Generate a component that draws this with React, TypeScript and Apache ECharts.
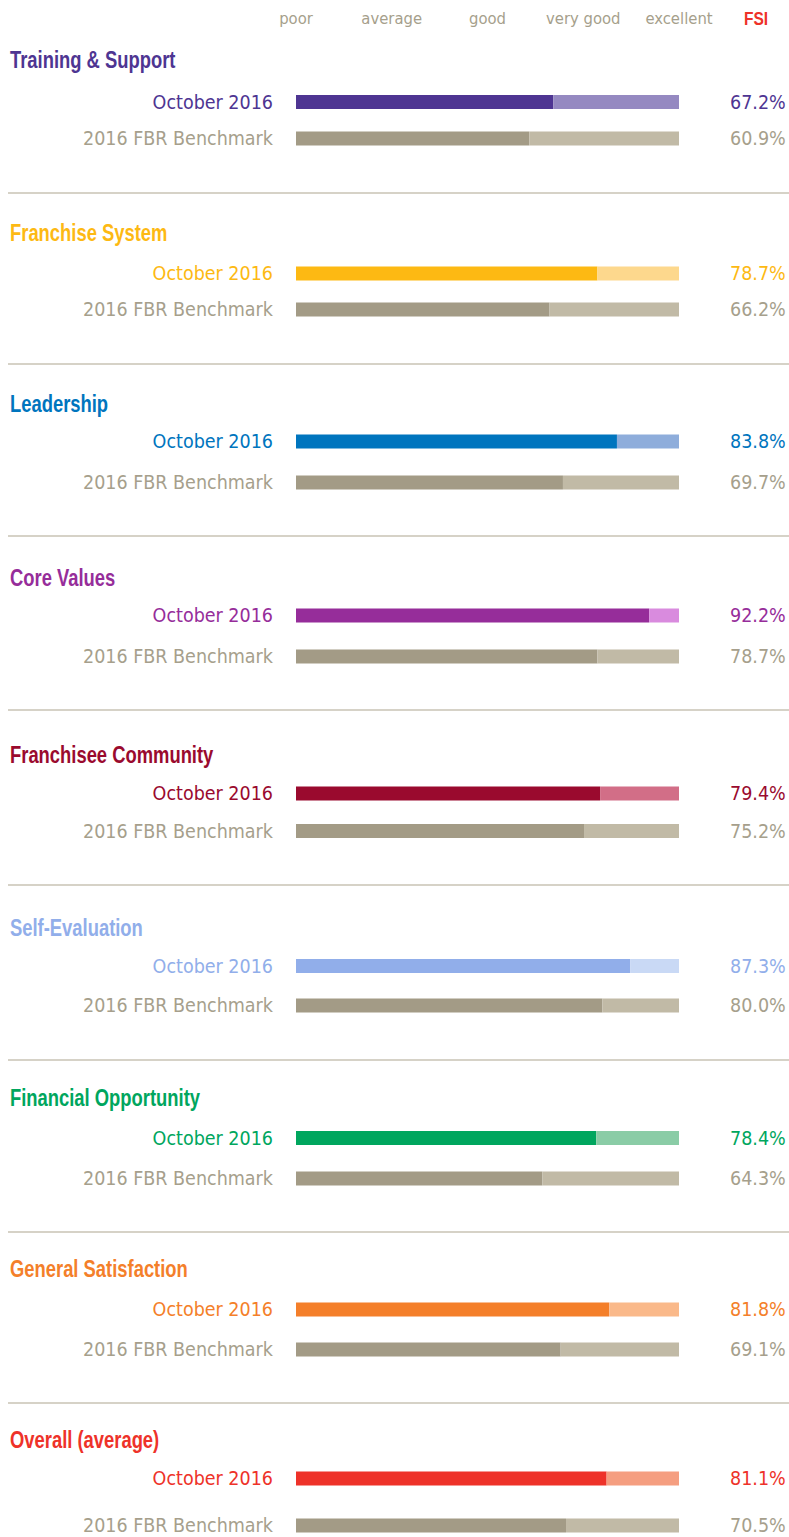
import React, { useEffect, useRef } from "react";
import * as echarts from "echarts";

// ---- data ----
const categories = [
  "Training & Support",
  "Franchise System",
  "Leadership",
  "Core Values",
  "Franchisee Community",
  "Self-Evaluation",
  "Financial Opportunity",
  "General Satisfaction",
  "Overall (average)",
];
const rowLabels = ["October 2016", "2016 FBR Benchmark"];
const october2016 = [67.2, 78.7, 83.8, 92.2, 79.4, 87.3, 78.4, 81.8, 81.1];
const benchmark2016 = [60.9, 66.2, 69.7, 78.7, 75.2, 80.0, 64.3, 69.1, 70.5];
const scaleLabels = ["poor", "average", "good", "very good", "excellent"];
const scaleTicks = [0, 25, 50, 75, 100];
const fsiLabel = "FSI";

// ---- styles ----
const darkColors = ["#4E3592", "#FDB913", "#0075BE", "#962D9A", "#9A0A2E", "#91AEEA", "#00A65E", "#F47F2A", "#EE3229"];
const lightColors = ["#9589C1", "#FDD88D", "#8EADDB", "#D98BDE", "#D26E87", "#C9D9F5", "#8ACCA6", "#FAB98A", "#F59E80"];
const benchDark = "#A39B86";
const benchLight = "#C1BAA6";
const grayText = "#A69F8C";
const sepColor = "#C9C3B5";
const FONT = "'DejaVu Sans Condensed', 'Liberation Sans Narrow', sans-serif";
const TITLE_FONT = "'Liberation Sans', Arial, sans-serif";

// ---- layout (pixel positions of each block) ----
const titleY = [60, 233, 404, 578, 755, 928, 1098, 1269, 1440];
const octY = [102, 273.5, 441.5, 615.5, 793.5, 966, 1138, 1309.5, 1478.5];
const benchY = [138.5, 309.5, 482.5, 656.5, 831, 1005.5, 1178.5, 1349.5, 1525.5];
const sepY = [193, 364, 536, 710, 885, 1060, 1232, 1403];
const W = 789;
const H = 1537;
const barLeft = 296;
const barRight = 679;
const valueLabelMargin = 51;

export default function App() {
  const ref = useRef<HTMLDivElement>(null);
  useEffect(() => {
    if (!ref.current) return;
    const chart = echarts.init(ref.current, null, { renderer: "svg" });

    const grids: any[] = [];
    const xAxes: any[] = [];
    const yAxes: any[] = [];
    const series: any[] = [];
    const graphics: any[] = [];

    categories.forEach((cat, i) => {
      const gap = benchY[i] - octY[i];
      const top = octY[i] - gap / 2;
      grids.push({
        left: barLeft,
        right: W - barRight,
        top,
        height: gap * 2,
        containLabel: false,
        outerBoundsMode: "none",
      });
      const isFirst = i === 0;
      xAxes.push({
        gridIndex: i,
        type: "value",
        min: 0,
        max: 100,
        interval: 25,
        position: "top",
        show: isFirst,
        axisLine: { show: false },
        axisTick: { show: false },
        splitLine: { show: false },
        axisLabel: {
          show: isFirst,
          margin: top - 27,
          color: grayText,
          fontFamily: FONT,
          fontSize: 16.5,
          showMinLabel: true,
          showMaxLabel: true,
          hideOverlap: false,
          formatter: (v: number) => scaleLabels[scaleTicks.indexOf(v)] ?? "",
        },
      });
      const labelColors = [darkColors[i], grayText];
      yAxes.push({
        gridIndex: i,
        type: "category",
        inverse: true,
        position: "left",
        data: rowLabels.map((t, k) => ({ value: t, textStyle: { color: labelColors[k] } })),
        axisLine: { show: false },
        axisTick: { show: false },
        splitLine: { show: false },
        axisLabel: { margin: 23, fontFamily: FONT, fontSize: 19.5 },
      });
      yAxes.push({
        gridIndex: i,
        type: "category",
        inverse: true,
        position: "right",
        data: [october2016[i], benchmark2016[i]].map((v, k) => ({
          value: v.toFixed(1) + "%",
          textStyle: { color: labelColors[k] },
        })),
        axisLine: { show: false },
        axisTick: { show: false },
        splitLine: { show: false },
        axisLabel: { margin: valueLabelMargin, fontFamily: FONT, fontSize: 19.5 },
      });
      const yIdx = yAxes.length - 2;
      series.push({
        type: "bar",
        xAxisIndex: i,
        yAxisIndex: yIdx,
        stack: "s" + i,
        barWidth: 14,
        silent: true,
        data: [
          { value: october2016[i], itemStyle: { color: darkColors[i] } },
          { value: benchmark2016[i], itemStyle: { color: benchDark } },
        ],
      });
      series.push({
        type: "bar",
        xAxisIndex: i,
        yAxisIndex: yIdx,
        stack: "s" + i,
        barWidth: 14,
        silent: true,
        data: [
          { value: +(100 - october2016[i]).toFixed(1), itemStyle: { color: lightColors[i] } },
          { value: +(100 - benchmark2016[i]).toFixed(1), itemStyle: { color: benchLight } },
        ],
      });
      graphics.push({
        type: "text",
        x: 10,
        y: titleY[i],
        scaleX: 0.8,
        style: {
          text: cat,
          fill: darkColors[i],
          fontFamily: TITLE_FONT,
          fontSize: 23,
          fontWeight: "bold",
          verticalAlign: "middle",
          align: "left",
        },
      });
    });

    sepY.forEach((y) => {
      graphics.push({
        type: "line",
        shape: { x1: 8, y1: y, x2: W, y2: y },
        style: { stroke: sepColor, lineWidth: 1.5 },
      });
    });
    graphics.push({
      type: "text",
      x: 756,
      y: 18,
      scaleX: 0.82,
      style: {
        text: fsiLabel,
        fill: "#EE3229",
        fontFamily: TITLE_FONT,
        fontSize: 19,
        fontWeight: "bold",
        align: "center",
        verticalAlign: "middle",
      },
    });

    chart.setOption({
      animation: false,
      grid: grids,
      xAxis: xAxes,
      yAxis: yAxes,
      series,
      graphic: graphics,
    });
    return () => chart.dispose();
  }, []);
  return (
    <div
      ref={ref}
      style={{ position: "absolute", left: 0, top: 0, width: W, height: H, background: "#fff" }}
    />
  );
}
